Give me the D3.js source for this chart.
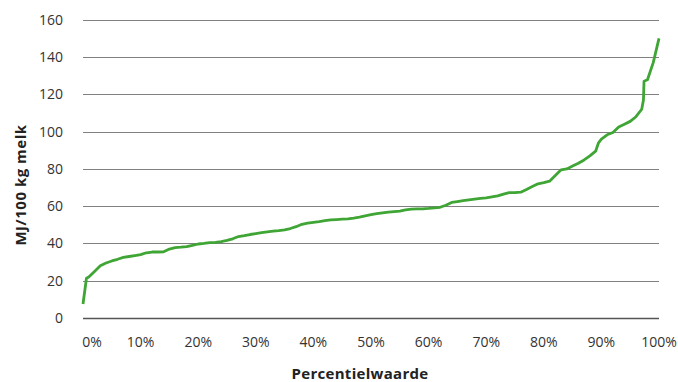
<!DOCTYPE html>
<html><head><meta charset="utf-8">
<script src="https://cdn.jsdelivr.net/npm/d3@7"></script>
<style>body{margin:0;background:#fff}svg{display:block}</style>
</head><body><svg id="c" width="678" height="382"></svg>
<script>
const percentiles = [0,0.6,1,2,3,4,5,6,7,8,9,10,11,12,13,14,15,16,17,18,19,20,21,22,23,24,25,26,27,28,29,30,31,32,33,34,35,36,37,38,39,40,41,42,43,44,45,46,47,48,49,50,51,52,53,54,55,56,57,58,59,60,61,62,63,64,65,66,67,68,69,70,71,72,73,74,75,76,77,78,79,80,81,82,83,84,85,86,87,88,89,89.5,90,91,92,93,94,95,96,97,97.3,97.4,98,99,100];
const values = [7.5,21.3,22,25,28,29.5,30.6,31.5,32.5,33,33.5,34,35,35.4,35.4,35.5,37,37.8,38,38.3,39,39.7,40,40.4,40.6,41,41.6,42.5,43.7,44.2,44.8,45.3,45.8,46.2,46.6,46.9,47.3,48,49,50.3,50.9,51.3,51.7,52.2,52.6,52.8,53,53.2,53.6,54.1,54.8,55.4,56,56.4,56.8,57.1,57.4,58,58.4,58.5,58.6,58.8,59.1,59.4,60.5,62,62.5,63,63.4,63.8,64.2,64.5,65,65.5,66.5,67.3,67.3,67.5,69,70.5,72,72.6,73.4,76.5,79.5,80,81.5,83,84.8,87,89.5,94,96,98.3,99.5,102.5,104,105.5,108,112,117,127,127.8,137,150];
const yTicks = [0,20,40,60,80,100,120,140,160];
const xTicks = [0,10,20,30,40,50,60,70,80,90,100];
const yTitle = "MJ/100 kg melk";
const xTitle = "Percentielwaarde";

const svg = d3.select("#c");
const font = "'Open Sans', sans-serif";
const x = d3.scaleLinear().domain([0,100]).range([83,659]);
const y = d3.scaleLinear().domain([0,160]).range([318,19.8]);

// gridlines
svg.append("g").selectAll("line").data(yTicks).join("line")
  .attr("x1", x(0)).attr("x2", x(100))
  .attr("y1", d => Math.round(y(d)) + 0.5).attr("y2", d => Math.round(y(d)) + 0.5)
  .attr("stroke", d => d === 0 ? "#555" : "#808080")
  .attr("stroke-width", d => d === 0 ? 1.6 : 1);

// y tick labels
svg.append("g").selectAll("text").data(yTicks).join("text")
  .attr("x", 63).attr("y", d => y(d)).attr("dy", "0.35em")
  .attr("text-anchor", "end")
  .attr("font-family", font).attr("font-size", 14).attr("fill", "#333")
  .text(d => d);

// x tick labels
svg.append("g").selectAll("text").data(xTicks).join("text")
  .attr("x", d => d === 0 ? x(d) + 9 : x(d)).attr("y", 342).attr("dy", "0.35em")
  .attr("text-anchor", "middle")
  .attr("font-family", font).attr("font-size", 14).attr("fill", "#333")
  .text(d => d + "%");

// titles
svg.append("text").attr("transform", "translate(21,185) rotate(-90)")
  .attr("text-anchor", "middle").attr("dy", "0.35em")
  .attr("font-family", font).attr("font-size", 15).attr("font-weight", "bold")
  .attr("letter-spacing", 0.5).attr("fill", "#222")
  .text(yTitle);
svg.append("text").attr("x", 360).attr("y", 379)
  .attr("text-anchor", "middle")
  .attr("font-family", font).attr("font-size", 15).attr("font-weight", "bold")
  .attr("letter-spacing", 0.3).attr("fill", "#222")
  .text(xTitle);

// line
const pts = percentiles.map((p, i) => [p, values[i]]);
svg.append("path").datum(pts)
  .attr("fill", "none").attr("stroke", "#3fa535").attr("stroke-width", 2.8)
  .attr("stroke-linejoin", "round")
  .attr("d", d3.line().x(d => x(d[0])).y(d => y(d[1])));
</script></body></html>
